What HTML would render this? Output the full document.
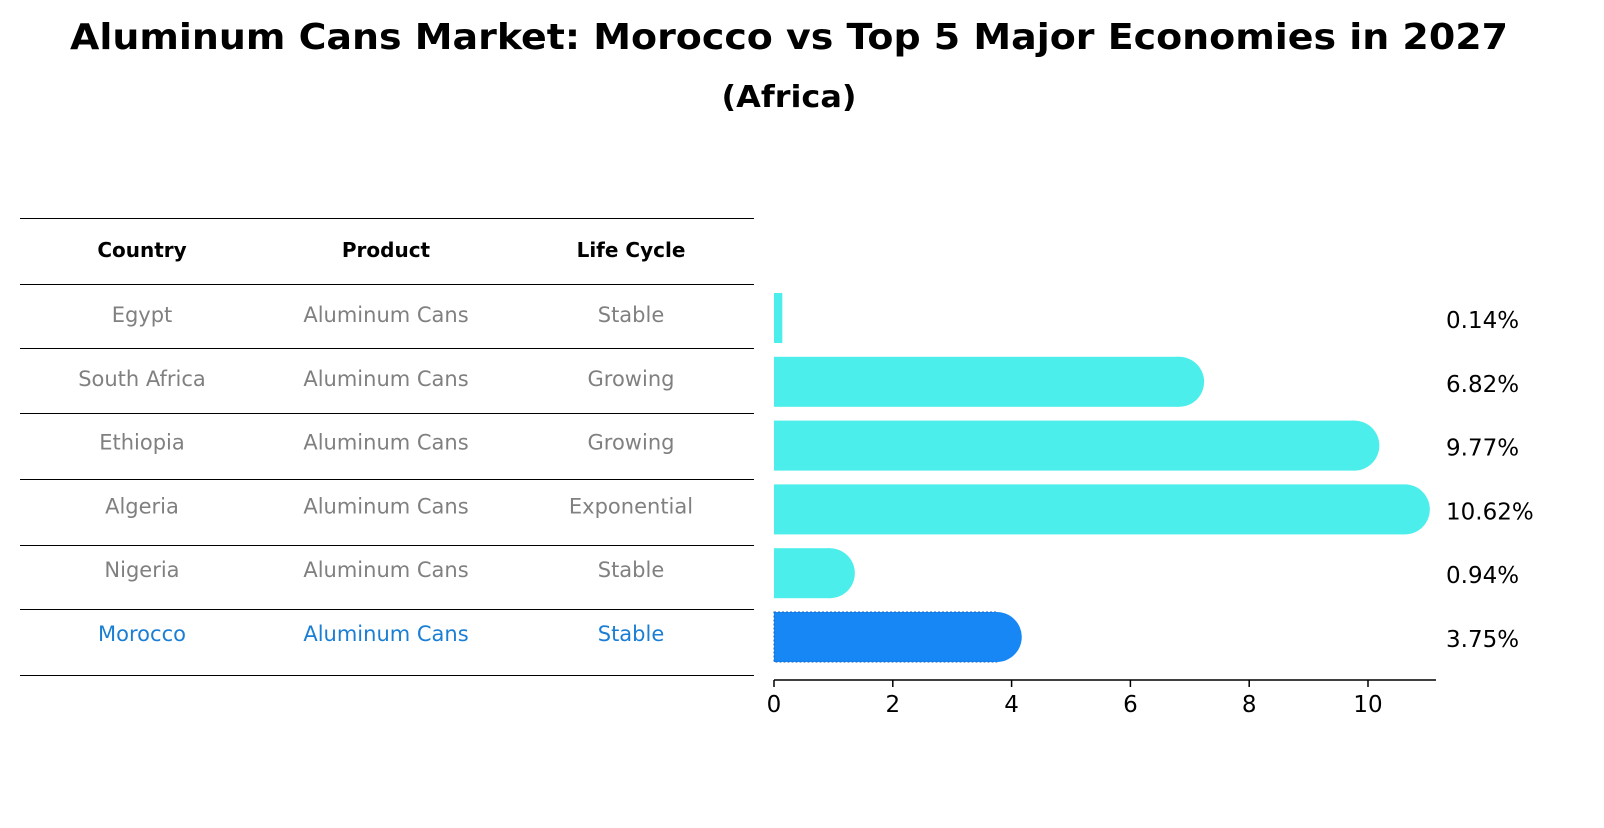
<!DOCTYPE html>
<html><head><meta charset="utf-8"><style>
body{margin:0;background:#fff;font-family:"Liberation Sans","DejaVu Sans",sans-serif}
</style></head><body>
<svg width="1604" height="823" xmlns="http://www.w3.org/2000/svg" font-family="DejaVu Sans, Liberation Sans, sans-serif">
<text x="789" y="49" text-anchor="middle" font-size="36" font-weight="bold" textLength="1438" lengthAdjust="spacingAndGlyphs">Aluminum Cans Market: Morocco vs Top 5 Major Economies in 2027</text>
<text x="789" y="107" text-anchor="middle" font-size="30" font-weight="bold" textLength="135" lengthAdjust="spacingAndGlyphs">(Africa)</text>
<g id="table"></g>
<g id="bars"></g>
</svg>
<script>
const countries=["Egypt","South Africa","Ethiopia","Algeria","Nigeria","Morocco"];
const products=["Aluminum Cans","Aluminum Cans","Aluminum Cans","Aluminum Cans","Aluminum Cans","Aluminum Cans"];
const lifeCycles=["Stable","Growing","Growing","Exponential","Stable","Stable"];
const values=[0.14,6.82,9.77,10.62,0.94,3.75];
const valueLabels=["0.14%","6.82%","9.77%","10.62%","0.94%","3.75%"];
const xTicks=[0,2,4,6,8,10];
const NS="http://www.w3.org/2000/svg";
function mk(tag,attrs,parent){const e=document.createElementNS(NS,tag);for(const k in attrs)e.setAttribute(k,attrs[k]);parent.appendChild(e);return e;}
const x=v=>774+v*59.4;
const y=i=>318+i*63.8;
const tbl=document.getElementById('table');
const lineYs=[218,284,348,413,479,545,609,675];
lineYs.forEach(ly=>{const l=mk('line',{x1:20,x2:754,y1:ly+0.5,y2:ly+0.5,stroke:'#000','stroke-width':1},tbl);

});
const colX=[142,386,631];
["Country","Product","Life Cycle"].forEach((h,j)=>{const t=mk('text',{x:colX[j],y:257,'text-anchor':'middle','font-size':20,'font-weight':'bold'},tbl);t.textContent=h;

});
countries.forEach((c,i)=>{const col=i===countries.length-1?'#1a7fd4':'#808080';
[c,products[i],lifeCycles[i]].forEach((v,j)=>{const t=mk('text',{x:colX[j],y:y(i)+4,'text-anchor':'middle','font-size':21,fill:col},tbl);t.textContent=v;

});});
const bars=document.getElementById('bars');
values.forEach((v,i)=>{const last=i===values.length-1;const col=last?'#1787f5':'#4beeea';
const g=mk('g',{},bars);


const r=mk('rect',{x:x(0),y:y(i)-25,width:x(v)-x(0),height:50,fill:col},g);
if(last){r.setAttribute('stroke','#1565c0');r.setAttribute('stroke-dasharray','2,2');r.setAttribute('stroke-width','1');}
if(v>=0.5)mk('circle',{cx:x(v),cy:y(i),r:25,fill:col},g);
const t=mk('text',{x:1446,y:y(i)+10,'font-size':23},bars);t.textContent=valueLabels[i];

});
const ax=mk('line',{x1:774,x2:1436,y1:680,y2:680,stroke:'#000','stroke-width':1.5},bars);


xTicks.forEach(v=>{mk('line',{x1:x(v),x2:x(v),y1:680,y2:687,stroke:'#000','stroke-width':1.5},bars);
const t=mk('text',{x:x(v),y:712,'text-anchor':'middle','font-size':23},bars);t.textContent=v;

});
</script>
</body></html>
